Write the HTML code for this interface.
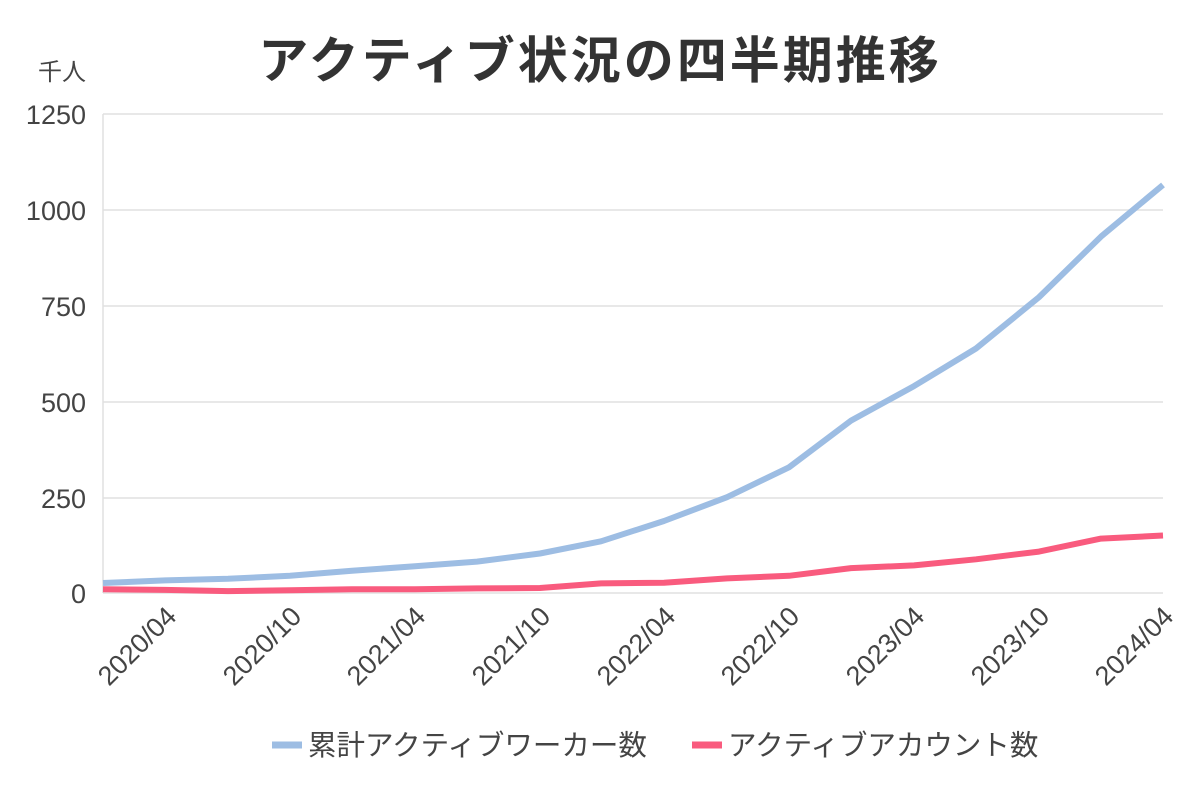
<!DOCTYPE html>
<html><head><meta charset="utf-8"><style>
html,body{margin:0;padding:0;background:#fff;}
svg{display:block;font-family:"Liberation Sans","Noto Sans CJK JP",sans-serif;}
</style></head><body>
<svg width="1200" height="797" viewBox="0 0 1200 797">
<text x="600" y="78" text-anchor="middle" font-size="50" font-weight="bold" fill="#333" letter-spacing="3">アクティブ状況の四半期推移</text>
<text x="38" y="80" font-size="24" fill="#444">千人</text>
<g stroke="#e0e0e0" stroke-width="1.5">
<line x1="103" y1="114" x2="1163" y2="114"/><line x1="103" y1="210" x2="1163" y2="210"/>
<line x1="103" y1="306" x2="1163" y2="306"/><line x1="103" y1="402" x2="1163" y2="402"/>
<line x1="103" y1="498" x2="1163" y2="498"/><line x1="103" y1="593" x2="1163" y2="593"/>
<line x1="103" y1="114" x2="103" y2="593"/>
</g>
<g font-size="27" fill="#444" text-anchor="end">
<text x="86" y="124">1250</text><text x="86" y="220">1000</text><text x="86" y="316">750</text>
<text x="86" y="412">500</text><text x="86" y="508">250</text><text x="86" y="603">0</text>
</g>
<g font-size="27" fill="#444" text-anchor="end">
<text transform="translate(178,618) rotate(-45)">2020/04</text>
<text transform="translate(303,618) rotate(-45)">2020/10</text>
<text transform="translate(427,618) rotate(-45)">2021/04</text>
<text transform="translate(552,618) rotate(-45)">2021/10</text>
<text transform="translate(677,618) rotate(-45)">2022/04</text>
<text transform="translate(801,618) rotate(-45)">2022/10</text>
<text transform="translate(926,618) rotate(-45)">2023/04</text>
<text transform="translate(1051,618) rotate(-45)">2023/10</text>
<text transform="translate(1175,618) rotate(-45)">2024/04</text>
</g>
<polyline fill="none" stroke="#9dbde3" stroke-width="6" stroke-linejoin="round" points="103,583 165,580.4 228,578.8 290,575.8 352,570.8 415,566.2 477,561.6 540,553.5 601,541.3 664,521 727,497.2 789,467.3 851,420.6 914,386.1 976,348.5 1039,297.2 1101,236.6 1163,184.9"/>
<polyline fill="none" stroke="#f95b7e" stroke-width="6" stroke-linejoin="round" points="103,589.2 165,589.9 228,591.1 290,590.3 352,589.2 415,589.2 477,588.4 540,588 601,583.4 664,582.7 727,578.4 789,575.8 851,568.1 914,565.4 976,559.3 1039,551.6 1101,538.6 1163,535.5"/>
<line x1="272" y1="745" x2="302" y2="745" stroke="#9dbde3" stroke-width="7"/>
<text x="308" y="755" font-size="28.5" fill="#444">累計アクティブワーカー数</text>
<line x1="692" y1="745" x2="722" y2="745" stroke="#f95b7e" stroke-width="7"/>
<text x="728" y="755" font-size="28.5" fill="#444">アクティブアカウント数</text>
</svg>
</body></html>
